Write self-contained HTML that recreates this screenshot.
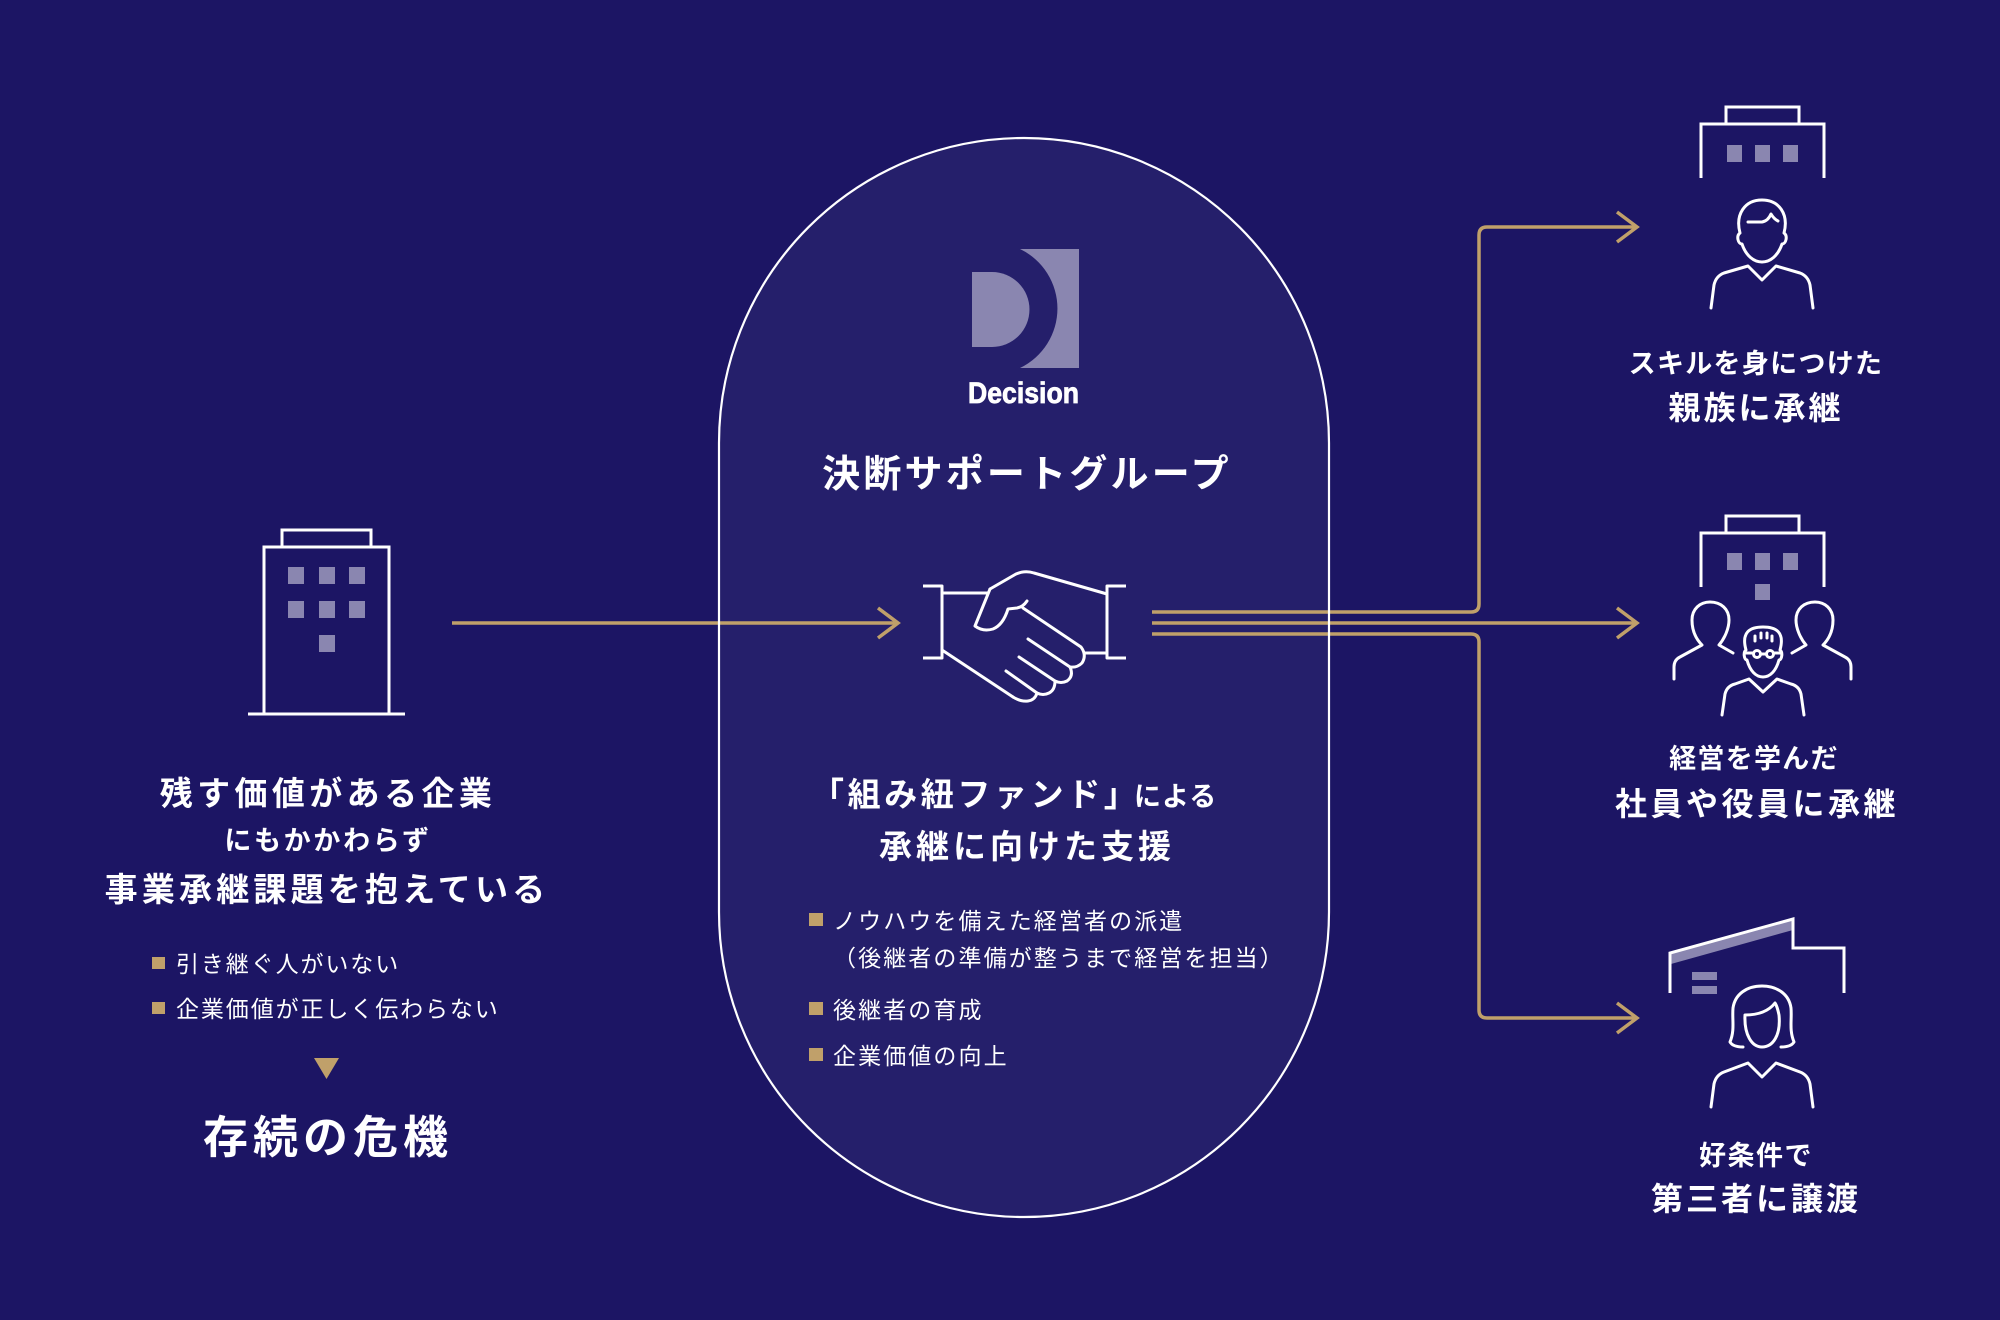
<!DOCTYPE html>
<html lang="ja">
<head>
<meta charset="utf-8">
<style>
  html,body{margin:0;padding:0;background:#1c1564;}
  svg{display:block;}
  text{font-family:"Liberation Sans","Noto Sans CJK JP",sans-serif;fill:#ffffff;}
  .b{font-weight:700;}
  .r{font-weight:400;}
</style>
</head>
<body>
<svg width="2000" height="1320" viewBox="0 0 2000 1320" xmlns="http://www.w3.org/2000/svg">
  <rect x="0" y="0" width="2000" height="1320" fill="#1c1564"/>

  <!-- capsule fill -->
  <rect x="719" y="138" width="610" height="1079" rx="305" ry="305" fill="#251f6b"/>

  <!-- ===== LEFT BUILDING ===== -->
  <g fill="none" stroke="#ffffff" stroke-width="3">
    <rect x="282" y="530" width="89" height="17"/>
    <rect x="264" y="547" width="125" height="167"/>
    <line x1="248" y1="714" x2="405" y2="714"/>
  </g>
  <g fill="#8a86b0">
    <rect x="288" y="567" width="16" height="17"/>
    <rect x="319" y="567" width="16" height="17"/>
    <rect x="349" y="567" width="16" height="17"/>
    <rect x="288" y="601" width="16" height="17"/>
    <rect x="319" y="601" width="16" height="17"/>
    <rect x="349" y="601" width="16" height="17"/>
    <rect x="319" y="635" width="16" height="17"/>
  </g>

  <!-- left texts -->
  <text class="b" x="328" y="805" font-size="33" letter-spacing="4.4" text-anchor="middle">残す価値がある企業</text>
  <text class="b" x="328" y="850" font-size="27" letter-spacing="2.7" text-anchor="middle">にもかかわらず</text>
  <text class="b" x="327" y="901" font-size="33" letter-spacing="4.2" text-anchor="middle">事業承継課題を抱えている</text>

  <rect x="152" y="957" width="13" height="12" fill="#c0a06a"/>
  <text class="r" x="176" y="972" font-size="23" letter-spacing="1.9">引き継ぐ人がいない</text>
  <rect x="152" y="1002" width="13" height="12" fill="#c0a06a"/>
  <text class="r" x="176" y="1017" font-size="23" letter-spacing="1.9">企業価値が正しく伝わらない</text>

  <polygon points="314,1058 339,1058 326.5,1079" fill="#c0a06a"/>
  <text class="b" x="328" y="1153" font-size="45" letter-spacing="5" text-anchor="middle">存続の危機</text>

  <!-- ===== CONNECTORS ===== -->
  <g fill="none" stroke="#c0a06a" stroke-width="3.5" stroke-linecap="butt" stroke-linejoin="miter">
    <line x1="452" y1="623" x2="898" y2="623"/>
    <polyline points="878,608 898,623 878,638"/>
    <path d="M1152,612 H1471 Q1479,612 1479,604 V235 Q1479,227 1487,227 H1637"/>
    <path d="M1152,623 H1637"/>
    <path d="M1152,634 H1471 Q1479,634 1479,642 V1010 Q1479,1018 1487,1018 H1637"/>
    <polyline points="1617,212 1637,227 1617,242"/>
    <polyline points="1617,608 1637,623 1617,638"/>
    <polyline points="1617,1003 1637,1018 1617,1033"/>
  </g>

  <!-- capsule stroke (on top) -->
  <rect x="719" y="138" width="610" height="1079" rx="305" ry="305" fill="none" stroke="#ffffff" stroke-width="2.2"/>

  <!-- ===== LOGO ===== -->
  <g fill="#8a86b0">
    <path d="M972,272 H992 A37.5,37.5 0 0 1 992,347 H972 Z"/>
    <path d="M1020,249 H1079 V368 H1020 A66,66 0 0 0 1020,249 Z"/>
  </g>
  <text class="b" x="968" y="403" font-size="30" textLength="111" lengthAdjust="spacingAndGlyphs" stroke="#ffffff" stroke-width="0.8" style="font-family:'Liberation Sans',sans-serif;">Decision</text>

  <text class="b" x="1027" y="487" font-size="38" letter-spacing="3.2" text-anchor="middle">決断サポートグループ</text>

  <!-- ===== HANDSHAKE ===== -->
  <g fill="none" stroke="#ffffff" stroke-width="3" stroke-linecap="round" stroke-linejoin="round">
    <path d="M923,586 H942 V658 H923" stroke-linecap="butt"/>
    <path d="M1126,586 H1107 V658 H1126" stroke-linecap="butt"/>
    <path d="M942,593 H988"/>
    <path d="M942,650 L1013,697"/>
    <path d="M1107,594 L1034,573 Q1025,570 1016,574 L990,589"/>
    <path d="M990,589 L975,626 Q983,632 993,629 Q1003,625 1008,609 L1017,608 Q1023,607 1027,601"/>
    <path d="M1023,608 L1081,647 Q1087,655 1082,663 Q1077,668 1070,667"/>
    <path d="M1085,653 H1107"/>
    <path d="M1028,639 L1070,667 Q1074,676 1067,681 Q1061,684 1055,681"/>
    <path d="M1019,657 L1055,681 Q1055,690 1049,693 Q1043,696 1037,693"/>
    <path d="M1006,671 L1037,693 Q1035,700 1028,701 Q1021,702 1013,697"/>
  </g>

  <!-- center texts -->
  <text class="b" y="806" font-size="33"><tspan x="811" letter-spacing="3.6">「組み紐ファンド」</tspan><tspan x="1134" font-size="27" letter-spacing="1">による</tspan></text>
  <text class="b" x="1027" y="858" font-size="33" letter-spacing="4" text-anchor="middle">承継に向けた支援</text>

  <rect x="809" y="913" width="14" height="13" fill="#c0a06a"/>
  <text class="r" x="833" y="929" font-size="23" letter-spacing="2.1">ノウハウを備えた経営者の派遣</text>
  <text class="r" x="833" y="966" font-size="23" letter-spacing="2.1">（後継者の準備が整うまで経営を担当）</text>
  <rect x="809" y="1002" width="14" height="13" fill="#c0a06a"/>
  <text class="r" x="833" y="1018" font-size="23" letter-spacing="2.1">後継者の育成</text>
  <rect x="809" y="1048" width="14" height="13" fill="#c0a06a"/>
  <text class="r" x="833" y="1064" font-size="23" letter-spacing="2.1">企業価値の向上</text>

  <!-- ===== RIGHT ICON 1 ===== -->
  <g fill="none" stroke="#ffffff" stroke-width="3" stroke-linejoin="miter">
    <rect x="1726" y="107" width="73" height="17"/>
    <path d="M1701,178 V124 H1824 V178"/>
  </g>
  <g fill="#8a86b0">
    <rect x="1727" y="145" width="15" height="17"/>
    <rect x="1755" y="145" width="15" height="17"/>
    <rect x="1783" y="145" width="15" height="17"/>
  </g>
  <g fill="none" stroke="#ffffff" stroke-width="3" stroke-linecap="round" stroke-linejoin="round">
    <path d="M1740,233 C1735,214 1745,200 1762,200 C1779,200 1789,214 1784,233 C1788,236 1786,244 1782,244 C1778,256 1770,262 1762,262 C1754,262 1746,256 1742,244 C1738,244 1736,236 1740,233 Z"/>
    <path d="M1748,222 H1762 Q1768,221 1771,214 Q1774,219 1778,221"/>
    <path d="M1711,308 L1714,285 Q1716,276 1724,273 L1748,266 L1762,280 L1776,266 L1800,273 Q1808,276 1810,285 L1813,308"/>
  </g>
  <text class="b" x="1756" y="373" font-size="27" letter-spacing="1.3" text-anchor="middle">スキルを身につけた</text>
  <text class="b" x="1756" y="419" font-size="32" letter-spacing="3" text-anchor="middle">親族に承継</text>

  <!-- ===== RIGHT ICON 2 ===== -->
  <g fill="none" stroke="#ffffff" stroke-width="3">
    <rect x="1726" y="516" width="73" height="17"/>
    <path d="M1701,587 V533 H1824 V587"/>
  </g>
  <g fill="#8a86b0">
    <rect x="1727" y="553" width="15" height="17"/>
    <rect x="1755" y="553" width="15" height="17"/>
    <rect x="1783" y="553" width="15" height="17"/>
    <rect x="1755" y="584" width="15" height="16"/>
  </g>
  <g fill="none" stroke="#ffffff" stroke-width="3" stroke-linecap="round" stroke-linejoin="round">
    <path d="M1674,679 L1674,667 Q1674,660 1680,657 L1702,645 C1694,637 1692,627 1692,620 C1692,609 1700,602 1710,602 C1721,602 1729,609 1729,620 C1729,628 1725,638 1719,645 L1733,653"/>
    <path d="M1851,679 L1851,667 Q1851,660 1845,657 L1823,645 C1831,637 1833,627 1833,620 C1833,609 1825,602 1815,602 C1804,602 1796,609 1796,620 C1796,628 1800,638 1806,645 L1792,653"/>
    <path d="M1746,650 C1741,632 1750,627 1763,627 C1776,627 1785,632 1780,650 C1783,652 1782,660 1779,660 C1776,671 1770,677 1763,677 C1756,677 1750,671 1747,660 C1744,660 1743,652 1746,650 Z"/>
    <path d="M1755,641 V636 M1761,638 V633 M1767,638 V633 M1772,641 V636"/>
    <circle cx="1757" cy="654" r="3.5"/>
    <circle cx="1770" cy="654" r="3.5"/>
    <path d="M1760.5,654 H1766.5 M1753.5,653 H1746 M1773.5,653 H1781"/>
    <path d="M1722,715 L1725,694 Q1727,686 1735,684 L1749,679 L1763,692 L1777,679 L1791,684 Q1799,686 1801,694 L1804,715"/>
  </g>
  <text class="b" x="1754" y="768" font-size="27" letter-spacing="1.3" text-anchor="middle">経営を学んだ</text>
  <text class="b" x="1757" y="815" font-size="32" letter-spacing="3.5" text-anchor="middle">社員や役員に承継</text>

  <!-- ===== RIGHT ICON 3 ===== -->
  <polygon points="1671,953 1793,919 1793,930 1671,964" fill="#8a86b0"/>
  <g fill="none" stroke="#ffffff" stroke-width="3" stroke-linejoin="miter">
    <path d="M1670,993 V953 L1793,919 V948 H1844 V993"/>
  </g>
  <g fill="#8a86b0">
    <rect x="1692" y="972" width="25" height="8"/>
    <rect x="1692" y="986" width="25" height="8"/>
  </g>
  <g fill="none" stroke="#ffffff" stroke-width="3" stroke-linecap="round" stroke-linejoin="round">
    <path d="M1743,1047 Q1733,1047 1730,1042 C1735,1030 1732,1020 1733,1008 C1735,994 1747,986 1762,986 C1777,986 1789,994 1791,1008 C1792,1020 1789,1030 1794,1042 Q1791,1047 1781,1047"/>
    <path d="M1745,1015 C1744,1035 1752,1047 1762,1047 C1773,1047 1781,1035 1779,1015 C1778,1010 1777,1006 1775,1003 C1768,1012 1757,1015 1745,1015 Z"/>
    <path d="M1711,1107 L1714,1084 Q1716,1075 1724,1072 L1748,1063 L1762,1077 L1776,1063 L1800,1072 Q1808,1075 1810,1084 L1813,1107"/>
  </g>
  <text class="b" x="1756" y="1165" font-size="27" letter-spacing="1.5" text-anchor="middle">好条件で</text>
  <text class="b" x="1756" y="1210" font-size="32" letter-spacing="3" text-anchor="middle">第三者に譲渡</text>
</svg>
</body>
</html>
